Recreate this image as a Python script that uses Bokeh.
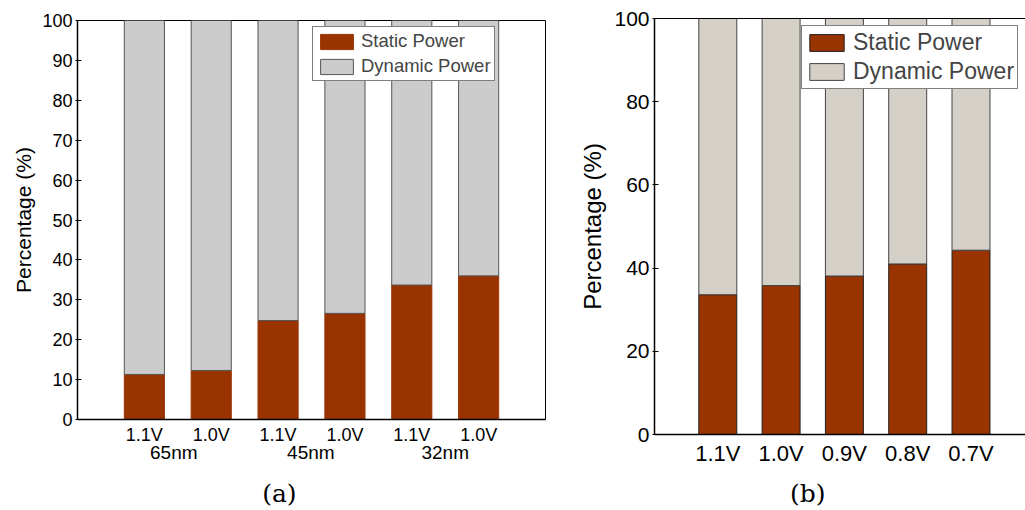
from bokeh.plotting import figure
from bokeh.models import (ColumnDataSource, FixedTicker, LinearAxis, Legend,
                          LegendItem, Range1d)
from bokeh.layouts import row
from bokeh.embed import file_html
from bokeh.resources import INLINE

# ---- data: (a) technology nodes / supply voltages ----
tech_nodes = ["65nm", "45nm", "32nm"]
a_voltages = ["1.1V", "1.0V", "1.1V", "1.0V", "1.1V", "1.0V"]
a_static = [11.3, 12.3, 24.8, 26.6, 33.7, 36.0]
a_dynamic = [88.7, 87.7, 75.2, 73.4, 66.3, 64.0]

# ---- data: (b) voltage scaling at 32nm ----
b_voltages = ["1.1V", "1.0V", "0.9V", "0.8V", "0.7V"]
b_static = [33.6, 35.8, 38.1, 41.0, 44.3]
b_dynamic = [66.4, 64.2, 61.9, 59.0, 55.7]

series_names = ["Static Power", "Dynamic Power"]

STATIC_COLOR = "#993300"
DYN_A = "#CCCCCC"
DYN_B = "#D4D0C8"
SANS = "Liberation Sans"
SERIF = "DejaVu Serif"


def style_common(p, tick_font, label_font):
    p.grid.visible = False
    p.background_fill_color = "white"
    p.border_fill_color = "white"
    for ax in (p.xaxis[0], p.yaxis[0]):
        ax.axis_line_color = "black"
        ax.axis_line_width = 1.5
        ax.major_label_text_font = SANS
        ax.major_label_text_color = "black"
        ax.minor_tick_line_color = None
        ax.major_tick_line_color = "black"
    p.xaxis.major_tick_in = 0
    p.xaxis.major_tick_out = 0
    p.yaxis.major_tick_in = 4
    p.yaxis.major_tick_out = 2
    p.yaxis.major_label_text_font_size = tick_font
    p.yaxis.axis_label = "Percentage (%)"
    p.yaxis.axis_label_text_font = SANS
    p.yaxis.axis_label_text_font_style = "normal"
    p.yaxis.axis_label_text_font_size = label_font
    p.yaxis.axis_label_text_color = "black"


def text_axis(positions, labels, font, size, standoff):
    """A bare axis below the frame that only carries text labels."""
    ax = LinearAxis(ticker=FixedTicker(ticks=list(positions)),
                    major_label_overrides={x: t for x, t in zip(positions, labels)},
                    major_label_text_font=font, major_label_text_font_size=size,
                    major_label_text_color="black",
                    major_label_standoff=standoff,
                    axis_line_color=None, major_tick_line_color=None,
                    minor_tick_line_color=None)
    return ax


# ================= (a) =================
src_a = ColumnDataSource(dict(x=list(range(1, len(a_voltages) + 1)),
                              static=a_static, dynamic=a_dynamic))
pa = figure(width=560, height=510, x_range=Range1d(0, 7), y_range=Range1d(0, 100),
            output_backend="svg", toolbar_location=None, frame_align=False,
            min_border_left=77, min_border_right=15,
            min_border_top=20, min_border_bottom=91)
style_common(pa, "18px", "21px")
pa.outline_line_color = "black"
pa.outline_line_width = 1

ra = pa.vbar_stack(["static", "dynamic"], x="x", width=0.6, source=src_a,
                   fill_color=[STATIC_COLOR, DYN_A],
                   line_color=[STATIC_COLOR, "#555555"], line_width=1)

pa.xaxis.ticker = FixedTicker(ticks=list(range(1, len(a_voltages) + 1)))
pa.xaxis.major_label_overrides = {i + 1: v for i, v in enumerate(a_voltages)}
pa.xaxis.major_label_text_font_size = "18px"
pa.xaxis.major_label_standoff = 5
pa.yaxis.ticker = FixedTicker(ticks=list(range(0, 101, 10)))
pa.yaxis.axis_label_standoff = 4
pa.yaxis.major_label_standoff = 3

# technology node names under each voltage pair, then the panel caption
pa.add_layout(text_axis([1.44, 3.49, 5.50], tech_nodes, SANS, "19px", -12), "below")
pa.add_layout(text_axis([3.02], ["(a)"], SERIF, "25px", 7), "below")

leg_a = Legend(items=[LegendItem(label=series_names[0], renderers=[ra[0]]),
                      LegendItem(label=series_names[1], renderers=[ra[1]])],
               location=(235, 338), glyph_width=41, glyph_height=19,
               label_height=19, spacing=3, padding=3, label_standoff=4,
               label_text_font=SANS, label_text_font_size="18.5px",
               border_line_color="black", border_line_width=1,
               background_fill_alpha=1.0)
pa.add_layout(leg_a)

# ================= (b) =================
src_b = ColumnDataSource(dict(x=list(range(1, len(b_voltages) + 1)),
                              static=b_static, dynamic=b_dynamic))
pb = figure(width=465, height=510, x_range=Range1d(0, 371 / 63.3),
            y_range=Range1d(0, 100),
            output_backend="svg", toolbar_location=None, frame_align=False,
            min_border_left=94, min_border_right=0,
            min_border_top=18, min_border_bottom=75)
style_common(pb, "21px", "24px")
pb.outline_line_color = None

rb = pb.vbar_stack(["static", "dynamic"], x="x", width=0.6, source=src_b,
                   fill_color=[STATIC_COLOR, DYN_B],
                   line_color=["#222222", "#444444"], line_width=1)

pb.xaxis.ticker = FixedTicker(ticks=list(range(1, len(b_voltages) + 1)))
pb.xaxis.major_label_overrides = {i + 1: v for i, v in enumerate(b_voltages)}
pb.xaxis.major_label_text_font_size = "22px"
pb.xaxis.major_label_standoff = 6
pb.yaxis.ticker = FixedTicker(ticks=list(range(0, 101, 20)))
pb.yaxis.axis_label_standoff = 5
pb.yaxis.major_label_standoff = 3

pb.add_layout(text_axis([2.42], ["(b)"], SERIF, "25px", 4), "below")

# top edge of the frame (the right edge runs past the page)
top_b = LinearAxis(ticker=FixedTicker(ticks=[]),
                   major_tick_in=0, major_tick_out=0, minor_tick_line_color=None,
                   axis_line_color="black", axis_line_width=1,
                   major_label_standoff=0)
pb.add_layout(top_b, "above")

leg_b = Legend(items=[LegendItem(label=series_names[0], renderers=[rb[0]]),
                      LegendItem(label=series_names[1], renderers=[rb[1]])],
               location=(147, 345), glyph_width=43, glyph_height=21,
               label_height=21, spacing=2, padding=3, label_standoff=5,
               label_text_font=SANS, label_text_font_size="23px",
               border_line_color="black", border_line_width=1,
               background_fill_alpha=1.0)
pb.add_layout(leg_b)

layout = row(pa, pb)
open("out.html", "w").write(file_html(layout, INLINE))
